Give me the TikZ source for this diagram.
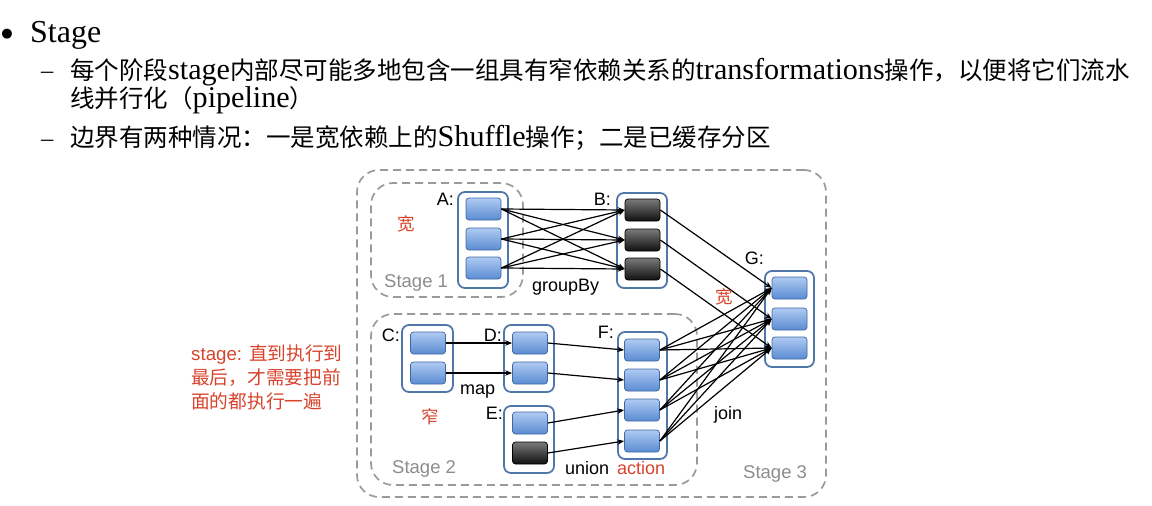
\documentclass[tikz,border=0pt]{standalone}
\usepackage{fontspec}
\setmainfont{Liberation Serif}
\newfontfamily\cjk{Noto Sans CJK SC}
\newfontfamily\lsans{Liberation Sans}
\newfontfamily\dsans{DejaVu Sans}
\newfontfamily\ser[Scale=1.23]{Liberation Serif}
\usetikzlibrary{arrows.meta}
\definecolor{contblue}{HTML}{5077AA}
\definecolor{partedge}{HTML}{3E68A3}
\definecolor{parttop}{HTML}{AFCBF2}
\definecolor{partbot}{HTML}{5A8BD2}
\definecolor{darktop}{HTML}{7A7A7A}
\definecolor{darkbot}{HTML}{101010}
\definecolor{stagegray}{HTML}{9A9A9A}
\definecolor{labgray}{HTML}{8C8C8C}
\definecolor{redtxt}{HTML}{D8432C}
\tikzset{
  cont/.style={draw=contblue, line width=1.8pt, rounded corners=7pt, fill=white, inner sep=0pt},
  part/.style={draw=partedge, line width=0.7pt, rounded corners=3pt, top color=parttop, bottom color=partbot, minimum width=35pt, minimum height=22pt, inner sep=0pt},
  dpart/.style={part, draw=black, top color=darktop, bottom color=darkbot},
  stagebox/.style={draw=stagegray, dash pattern=on 8pt off 5pt, line width=1.7pt, rounded corners=22pt, inner sep=0pt},
  link/.style={-{Stealth[length=7pt,width=5.5pt]}, line width=1.2pt, black},
  lab/.style={font=\lsans\fontsize{18}{20}\selectfont, inner sep=0pt},
  stlab/.style={font=\lsans\fontsize{18.5}{20}\selectfont, text=labgray, inner sep=0pt, anchor=base west},
  redcn/.style={font=\cjk\fontsize{17.5}{20}\selectfont, text=redtxt, inner sep=0pt},
  body/.style={anchor=base west, inner sep=0pt, font=\fontsize{24.5}{24}\selectfont},
}
\begin{document}
\begin{tikzpicture}[x=1pt,y=-1pt]
\useasboundingbox (0,0) rectangle (1152,506);
% header text
\node[inner sep=0pt, font=\dsans\fontsize{13}{14}\selectfont] (bul) at (7,34) {●};
\node[body] (title) at (30,42) {\ser\fontsize{26}{28}\selectfont Stage};
\node[body] (d1) at (41,78) {–};
\node[body, align=left, anchor=north west] (t1) at (70,58) {{\cjk 每个阶段}{\ser stage}{\cjk 内部尽可能多地包含一组具有窄依赖关系的}{\ser transformations}{\cjk 操作，以便将它们流水}\\{\cjk 线并行化（}{\ser pipeline}{\cjk ）}};
\node[body] (d3) at (41,146) {–};
\node[body] (t3) at (70,146) {{\cjk 边界有两种情况：一是宽依赖上的}{\ser Shuffle}{\cjk 操作；二是已缓存分区}};

% stage boxes
\node[stagebox, minimum width=469pt, minimum height=327pt] (s3) at (591.5,333.5) {};
\node[stagebox, minimum width=152pt, minimum height=114pt] (s1) at (447,240) {};
\node[stagebox, minimum width=326pt, minimum height=171pt] (s2) at (534,399.5) {};

% containers
\node[cont, minimum width=50pt, minimum height=96pt] (A) at (483,240) {};
\node[cont, minimum width=50pt, minimum height=95pt] (B) at (642,240.5) {};
\node[cont, minimum width=49pt, minimum height=96pt] (G) at (789.5,319) {};
\node[cont, minimum width=51pt, minimum height=67pt] (C) at (427.5,358.5) {};
\node[cont, minimum width=50pt, minimum height=67pt] (D) at (529,358.5) {};
\node[cont, minimum width=50pt, minimum height=67pt] (E) at (529,439.5) {};
\node[cont, minimum width=49pt, minimum height=127pt] (F) at (642.5,395.5) {};

% partitions
\node[part] (A1) at (483.5,209) {};
\node[part] (A2) at (483.5,239) {};
\node[part] (A3) at (483.5,268) {};
\node[dpart] (B1) at (642.5,210) {};
\node[dpart] (B2) at (642.5,240) {};
\node[dpart] (B3) at (642.5,269) {};
\node[part] (G1) at (789.5,288) {};
\node[part] (G2) at (789.5,319) {};
\node[part] (G3) at (789.5,348) {};
\node[part] (C1) at (428,343) {};
\node[part] (C2) at (428,373) {};
\node[part] (D1) at (530,343) {};
\node[part] (D2) at (530,373) {};
\node[part] (E1) at (530,423) {};
\node[dpart] (E2) at (530,453) {};
\node[part] (F1) at (642,350) {};
\node[part] (F2) at (642,380) {};
\node[part] (F3) at (642,410) {};
\node[part] (F4) at (642,441) {};

% connectors
\foreach \i in {1,2,3}{\foreach \j in {1,2,3}{\draw[link] (A\i.east) -- (B\j.west);}}
\foreach \i in {1,2,3}{\draw[link] (B\i.east) -- (G\i.west);}
\foreach \i in {1,2,3,4}{\foreach \j in {1,2,3}{\draw[link] (F\i.east) -- (G\j.west);}}
\draw[link] (C1.east) -- (D1.west);
\draw[link] (C2.east) -- (D2.west);
\draw[link] (D1.east) -- (F1.west);
\draw[link] (D2.east) -- (F2.west);
\draw[link] (E1.east) -- (F3.west);
\draw[link] (E2.east) -- (F4.west);

% labels
\node[lab, anchor=east] (la) at (454,199) {A:};
\node[lab, anchor=east] (lb) at (611,199) {B:};
\node[lab, anchor=east] (lg) at (764,258) {G:};
\node[lab, anchor=east] (lc) at (400,335) {C:};
\node[lab, anchor=east] (ld) at (502,335) {D:};
\node[lab, anchor=east] (le) at (503,413) {E:};
\node[lab, anchor=east] (lf) at (614,332) {F:};
\node[lab, anchor=base west] (gb) at (532,291) {groupBy};
\node[lab, anchor=base west] (mp) at (460,394) {map};
\node[lab, anchor=base west] (un) at (565,474) {union};
\node[lab, anchor=base west, text=redtxt] (ac) at (617,474) {action};
\node[lab, anchor=base west] (jn) at (714,419) {join};
\node[stlab] (st1) at (384,287) {Stage 1};
\node[stlab] (st2) at (392,473) {Stage 2};
\node[stlab] (st3) at (743,478) {Stage 3};
\node[redcn] (w1) at (406,224) {宽};
\node[redcn] (w2) at (724,297) {宽};
\node[redcn] (n1) at (430,417) {窄};
\node[inner sep=0pt, anchor=north west, text=redtxt, align=left, font=\fontsize{18.7}{24}\selectfont] (note) at (191,345)
  {{\lsans stage: }{\cjk 直到执行到}\\{\cjk 最后，才需要把前}\\{\cjk 面的都执行一遍}};
\end{tikzpicture}
\end{document}
